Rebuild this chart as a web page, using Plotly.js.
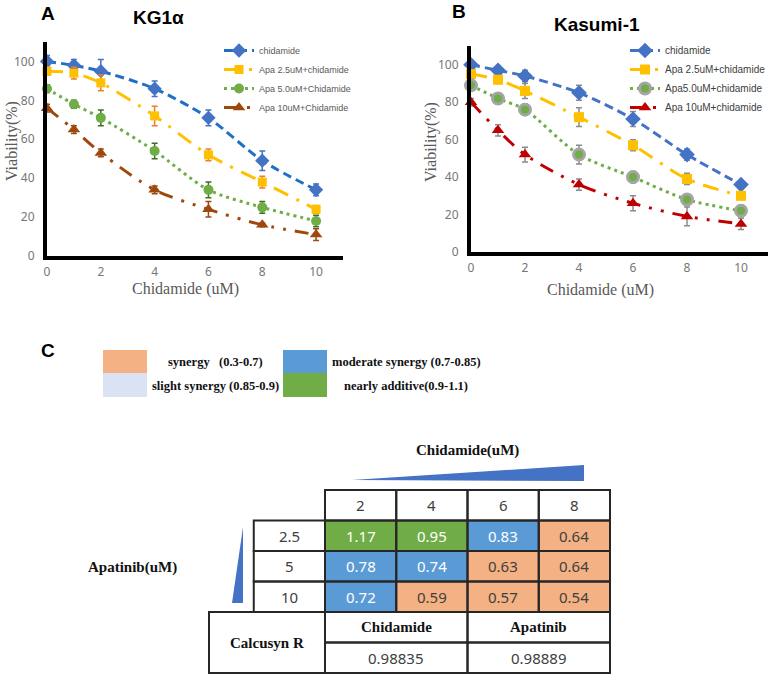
<!DOCTYPE html>
<html>
<head>
<meta charset="utf-8">
<script src="https://cdn.plot.ly/plotly-3.0.1.min.js"></script>
<style>html,body{margin:0;padding:0;background:#fff;overflow:hidden;}#chart{width:768px;height:677px;}</style>
</head>
<body>
<div id="chart"></div>
<script>
// ---------- DATA ----------
const conc = [0, 1, 2, 4, 6, 8, 10];
const xTicks = [0, 2, 4, 6, 8, 10];
const yTicks = [0, 20, 40, 60, 80, 100];

// Panel A: KG1α
const kgNames = ['chidamide', 'Apa 2.5uM+chidamide', 'Apa 5.0uM+Chidamide', 'Apa 10uM+Chidamide'];
const kgChid   = [100, 98, 95, 86, 71, 49, 34];
const kgChidE  = [3, 3, 6, 4, 4, 5, 3];
const kgApa25  = [95, 94, 89, 72, 52, 38, 24];
const kgApa25E = [2, 3, 4, 5, 3, 3, 2];
const kgApa5   = [86, 78, 71, 54, 34, 25, 18];
const kgApa5E  = [2, 2, 4, 4, 4, 3, 3];
const kgApa10  = [76, 65, 53, 34, 24, 16, 11];
const kgApa10E = [2, 2, 2, 2, 4, 1, 3];

// Panel B: Kasumi-1
const kaNames = ['chidamide', 'Apa 2.5uM+chidamide', 'Apa5.0uM+chidamide', 'Apa 10uM+chidamide'];
const kaChid   = [100, 97, 94, 85, 71, 52, 36];
const kaChidE  = [1, 2, 3, 4, 4, 3, 2];
const kaApa25  = [95, 92, 86, 72, 57, 39, 30];
const kaApa25E = [1, 2, 4, 5, 3, 3, 2];
const kaApa5   = [89, 82, 76, 52, 40, 28, 22];
const kaApa5E  = [1, 2, 3, 5, 3, 2, 3];
const kaApa10  = [80, 65, 52, 36, 26, 19, 15];
const kaApa10E = [2, 3, 4, 3, 4, 5, 3];

// Panel C: combination index table
const chidLevels = ['2', '4', '6', '8'];
const apaLevels  = ['2.5', '5', '10'];
const ciValues = [
  [1.17, 0.95, 0.83, 0.64],
  [0.78, 0.74, 0.63, 0.64],
  [0.72, 0.59, 0.57, 0.54]
];
const rDrugs  = ['Chidamide', 'Apatinib'];
const rValues = ['0.98835', '0.98889'];
const ciLegend = ['synergy\u00a0\u00a0\u00a0(0.3-0.7)', 'slight synergy (0.85-0.9)', 'moderate synergy (0.7-0.85)', 'nearly additive(0.9-1.1)'];

// ---------- HELPERS ----------
const W = 768, H = 677;
const px = x => x / W;
const py = y => 1 - y / H;
const GRAY = '#595959';
const TICKGRAY = '#767676';
const SANS = 'Noto Sans, Liberation Sans, sans-serif';
const SERIF = 'Liberation Serif, Times New Roman, serif';
const ARIAL = 'Liberation Sans, Arial, sans-serif';

function curve(y, e, name, o, xa, ya, leg) {
  return {
    type: 'scatter', mode: 'lines+markers', x: conc, y: y, name: name,
    xaxis: xa, yaxis: ya, legend: leg, cliponaxis: false, hoverinfo: 'skip',
    line: {color: o.lc, width: 3, dash: o.dash, shape: 'spline', smoothing: 0.8},
    marker: {symbol: o.sym, size: o.size, color: o.mc, line: {color: o.mlc || o.mc, width: o.mlw || 0}},
    error_y: {type: 'data', array: e, visible: true, color: o.ec, thickness: 1.5, width: 3}
  };
}

const dashB = '9px,5px';
const dashDD = '16px,9px,3px,9px';
const dashDot = '3px,4px';
const dashDDD = '14px,9px,3px,9px,3px,9px';

const traces = [
  curve(kgChid, kgChidE, kgNames[0], {lc: '#1F6FC5', mc: '#4472C4', ec: '#4472C4', dash: dashB, sym: 'diamond', size: 11}, 'x', 'y', 'legend'),
  curve(kgApa25, kgApa25E, kgNames[1], {lc: '#FFC000', mc: '#FFC000', ec: '#ED7D31', dash: dashDD, sym: 'square', size: 9}, 'x', 'y', 'legend'),
  curve(kgApa5, kgApa5E, kgNames[2], {lc: '#70AD47', mc: '#70AD47', ec: '#3f6f25', dash: dashDot, sym: 'circle', size: 10}, 'x', 'y', 'legend'),
  curve(kgApa10, kgApa10E, kgNames[3], {lc: '#9E480E', mc: '#9E480E', ec: '#9E480E', dash: dashDDD, sym: 'triangle-up', size: 11}, 'x', 'y', 'legend'),
  curve(kaChid, kaChidE, kaNames[0], {lc: '#4472C4', mc: '#4472C4', ec: '#8c8c8c', dash: dashB, sym: 'diamond', size: 12}, 'x2', 'y2', 'legend2'),
  curve(kaApa25, kaApa25E, kaNames[1], {lc: '#FFC000', mc: '#FFC000', ec: '#8c8c8c', dash: dashDD, sym: 'square', size: 10}, 'x2', 'y2', 'legend2'),
  curve(kaApa5, kaApa5E, kaNames[2], {lc: '#70AD47', mc: '#70AD47', mlc: '#A5A5A5', mlw: 3, ec: '#8c8c8c', dash: dashDot, sym: 'circle', size: 11}, 'x2', 'y2', 'legend2'),
  curve(kaApa10, kaApa10E, kaNames[3], {lc: '#C00000', mc: '#C00000', ec: '#8c8c8c', dash: dashDDD, sym: 'triangle-up', size: 11}, 'x2', 'y2', 'legend2')
];

// Table coordinates: 1 unit = one column / one row
const colPx = 71.25, rowPx = 30.5, x0Px = 325, y0Px = 490;
const ux = p => (p - x0Px) / colPx;
const uy = p => (p - y0Px) / rowPx;

const C_SYN = '#F4B183', C_MOD = '#5B9BD5', C_SLI = '#DAE3F3', C_ADD = '#70AD47';
traces.push({
  type: 'heatmap', xaxis: 'x3', yaxis: 'y3', hoverinfo: 'skip', showscale: false, showlegend: false,
  x: chidLevels.map((_, i) => i + 0.5), y: apaLevels.map((_, i) => i + 1.5), z: ciValues,
  zmin: 0.3, zmax: 1.1,
  colorscale: [[0, C_SYN], [0.5, C_SYN], [0.5, C_MOD], [0.6875, C_MOD], [0.6875, C_SLI], [0.75, C_SLI], [0.75, C_ADD], [1, C_ADD]]
});

const shapes = [];
const annotations = [];
const BORDER = {color: '#262626', width: 2};
function rect(x0, y0, x1, y1) {
  shapes.push({type: 'rect', xref: 'x3', yref: 'y3', x0, y0, x1, y1, line: BORDER, fillcolor: 'rgba(0,0,0,0)'});
}
function tText(x, y, text, font) {
  annotations.push({xref: 'x3', yref: 'y3', x, y, text, showarrow: false, xanchor: 'center', yanchor: 'middle', font});
}
const numFont = c => ({family: SANS, size: 15, color: c});
const boldSerif = {family: SERIF, size: 15, color: '#111', weight: 'bold'};

chidLevels.forEach((t, c) => { rect(c, 0, c + 1, 1); tText(c + 0.5, 0.5, t, numFont('#404040')); });
apaLevels.forEach((t, r) => { rect(-1, r + 1, 0, r + 2); tText(-0.5, r + 1.5, t, numFont('#404040')); });
ciValues.forEach((row, r) => row.forEach((v, c) => {
  rect(c, r + 1, c + 1, r + 2);
  const light = v < 0.7;
  tText(c + 0.5, r + 1.5, v.toFixed(2), numFont(light ? '#404040' : '#ffffff'));
}));
const xCalc = ux(209);
rect(xCalc, 4, 0, 6);
tText((xCalc) / 2, 5, 'Calcusyn R', boldSerif);
rDrugs.forEach((d, i) => {
  rect(i * 2, 4, i * 2 + 2, 5); rect(i * 2, 5, i * 2 + 2, 6);
  tText(i * 2 + 1, 4.5, d, boldSerif);
  tText(i * 2 + 1, 5.5, rValues[i], numFont('#404040'));
});
// wedges
shapes.push({type: 'path', xref: 'x3', yref: 'y3', line: {width: 0}, fillcolor: '#4472C4',
  path: `M ${ux(352)},${uy(480)} L ${ux(584)},${uy(465)} L ${ux(584)},${uy(481)} Z`});
shapes.push({type: 'path', xref: 'x3', yref: 'y3', line: {width: 0}, fillcolor: '#4472C4',
  path: `M ${ux(243)},${uy(527)} L ${ux(243)},${uy(603)} L ${ux(232)},${uy(603)} Z`});
tText(ux(467), uy(450), 'Chidamide(uM)', boldSerif);
tText(ux(132), uy(567), 'Apatinib(uM)', boldSerif);

// CI legend swatches (paper)
const swatches = [
  {x0: 103, x1: 147, y0: 350, y1: 373, c: C_SYN, tx: 215, ty: 362, t: ciLegend[0]},
  {x0: 103, x1: 147, y0: 373, y1: 397, c: C_SLI, tx: 215, ty: 386, t: ciLegend[1]},
  {x0: 283, x1: 327, y0: 350, y1: 373, c: C_MOD, tx: 406, ty: 362, t: ciLegend[2]},
  {x0: 283, x1: 327, y0: 373, y1: 397, c: C_ADD, tx: 406, ty: 386, t: ciLegend[3]}
];
swatches.forEach(s => {
  shapes.push({type: 'rect', xref: 'paper', yref: 'paper', x0: px(s.x0), x1: px(s.x1), y0: py(s.y1), y1: py(s.y0), line: {width: 0}, fillcolor: s.c});
  annotations.push({xref: 'paper', yref: 'paper', x: px(s.tx), y: py(s.ty), text: s.t, showarrow: false, xanchor: 'center', yanchor: 'middle',
    font: {family: SERIF, size: 12.5, color: '#111', weight: 'bold'}});
});

// Panel labels & titles
function pAnn(x, y, text, font, extra) {
  annotations.push(Object.assign({xref: 'paper', yref: 'paper', x: px(x), y: py(y), text, showarrow: false, xanchor: 'center', yanchor: 'middle', font}, extra || {}));
}
const panelFont = {family: ARIAL, size: 19, color: '#000', weight: 'bold'};
pAnn(48, 13, 'A', panelFont);
pAnn(158, 18, 'KG1α', {family: ARIAL, size: 19, color: '#000', weight: 'bold'});
pAnn(459, 11, 'B', panelFont);
pAnn(597, 24, 'Kasumi-1', {family: ARIAL, size: 19, color: '#000', weight: 'bold'});
pAnn(48, 350, 'C', {family: ARIAL, size: 19, color: '#000', weight: 'bold'});
const axTitleFont = {family: SERIF, size: 16, color: GRAY};
pAnn(185, 289, 'Chidamide (uM)', axTitleFont);
pAnn(600, 290, 'Chidamide (uM)', axTitleFont);
pAnn(12, 141, 'Viability(%)', axTitleFont, {textangle: -90});
pAnn(431, 142, 'Viability(%)', axTitleFont, {textangle: -90});

const tickFont = {family: SANS, size: 12, color: TICKGRAY};
function xAx(domain) {
  return {domain, range: [0, 11], tickvals: xTicks, showline: true, linewidth: 4, linecolor: '#000',
    showgrid: false, zeroline: false, ticks: '', tickfont: tickFont, fixedrange: true, ticklabelstandoff: 2, automargin: false};
}
function yAx(domain) {
  return {domain, range: [0, 110], tickvals: yTicks, showline: true, linewidth: 4, linecolor: '#000',
    showgrid: false, zeroline: false, ticks: '', tickfont: tickFont, fixedrange: true, ticklabelstandoff: 6, automargin: false};
}

const legFont = {family: ARIAL, size: 9, color: GRAY};
const layout = {
  width: W, height: H, margin: {l: 0, r: 0, t: 0, b: 0, autoexpand: false},
  paper_bgcolor: '#fff', plot_bgcolor: 'rgba(0,0,0,0)', showlegend: true,
  xaxis: Object.assign(xAx([px(47), px(343)]), {anchor: 'y'}),
  yaxis: Object.assign(yAx([py(256), py(42)]), {anchor: 'x'}),
  xaxis2: Object.assign(xAx([px(471), px(768)]), {anchor: 'y2'}),
  yaxis2: Object.assign(yAx([py(252), py(46)]), {anchor: 'x2'}),
  xaxis3: {domain: [px(100), px(700)], range: [ux(100), ux(700)], visible: false, anchor: 'y3', fixedrange: true},
  yaxis3: {domain: [py(677), py(440)], range: [uy(677), uy(440)], visible: false, anchor: 'x3', fixedrange: true},
  legend: {x: px(219), y: py(36), xanchor: 'left', yanchor: 'top', bgcolor: 'rgba(0,0,0,0)',
    font: legFont, itemwidth: 30, tracegroupgap: 0},
  legend2: {x: px(625), y: py(36), xanchor: 'left', yanchor: 'top', bgcolor: 'rgba(0,0,0,0)',
    font: {family: ARIAL, size: 10, color: '#404040'}, itemwidth: 30, tracegroupgap: 0},
  shapes, annotations
};

Plotly.newPlot('chart', traces, layout, {displayModeBar: false, staticPlot: true});
</script>
</body>
</html>
